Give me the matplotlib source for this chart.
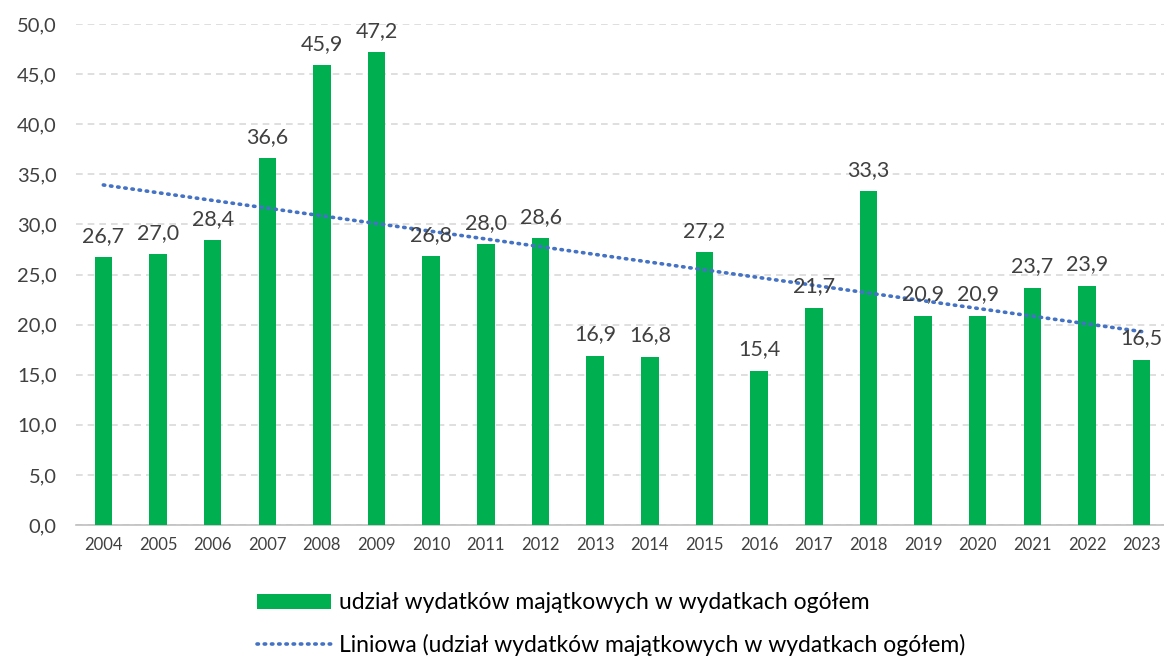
import numpy as np
import matplotlib
matplotlib.use("Agg")
from matplotlib import pyplot as plt

plt.rcParams['font.family'] = ['Lato', 'DejaVu Sans']

# data
years = ['2004', '2005', '2006', '2007', '2008', '2009', '2010', '2011', '2012', '2013',
         '2014', '2015', '2016', '2017', '2018', '2019', '2020', '2021', '2022', '2023']
share = [26.7, 27.0, 28.4, 36.6, 45.9, 47.2, 26.8, 28.0, 28.6, 16.9,
         16.8, 27.2, 15.4, 21.7, 33.3, 20.9, 20.9, 23.7, 23.9, 16.5]
series_label = 'udział wydatków majątkowych w wydatkach ogółem'
trend_label = 'Liniowa (udział wydatków majątkowych w wydatkach ogółem)'
yticks = [0, 5, 10, 15, 20, 25, 30, 35, 40, 45, 50]

green = '#00B050'
blue = '#4472C4'
txt = '#404040'

fig = plt.figure(figsize=(11.64, 6.56), dpi=100)
ax = fig.add_axes([76 / 1164, 131 / 656, 1093 / 1164, 501 / 656])

x = np.arange(len(years))
bars = ax.bar(x, share, width=0.32, color=green, zorder=3, label=series_label)

# linear trend (Excel "Liniowa")
k, b = np.polyfit(x, share, 1)
trend, = ax.plot(x, k * x + b, color=blue, lw=2.6, linestyle=(0, (0.4, 1.6)),
                 dash_capstyle='round', zorder=4, label=trend_label)

for xi, v in zip(x, share):
    ax.annotate(f'{v:.1f}'.replace('.', ','), (xi, v), xytext=(0, 8),
                textcoords='offset points', ha='center', va='bottom',
                fontsize=15.5, color=txt, zorder=5)

ax.set_xlim(-0.5, len(years) - 0.5)
ax.set_ylim(0, 50)
ax.set_yticks(yticks)
ax.set_yticklabels([f'{t:.1f}'.replace('.', ',') for t in yticks], fontsize=14.5, color=txt)
ax.set_xticks(x)
ax.set_xticklabels(years, fontsize=12, color=txt)
ax.tick_params(axis='both', length=0)
ax.tick_params(axis='x', pad=9)
ax.tick_params(axis='y', pad=14)

ax.yaxis.grid(True, color='#D9D9D9', linestyle=(0, (4, 3)), lw=1.2, zorder=0)
for s in ['top', 'right', 'left']:
    ax.spines[s].set_visible(False)
ax.spines['bottom'].set_color('#BFBFBF')
ax.spines['bottom'].set_linewidth(1.2)

leg = fig.legend([bars, trend], [series_label, trend_label],
                 loc='upper left', bbox_to_anchor=(246 / 1164, 1 - 581 / 656),
                 frameon=False, fontsize=16.5, handlelength=3.2, handleheight=0.6,
                 handletextpad=0.35, labelspacing=0.9, borderpad=0)
for t in leg.get_texts():
    t.set_color('black')

fig.savefig('out.png', dpi=100)
